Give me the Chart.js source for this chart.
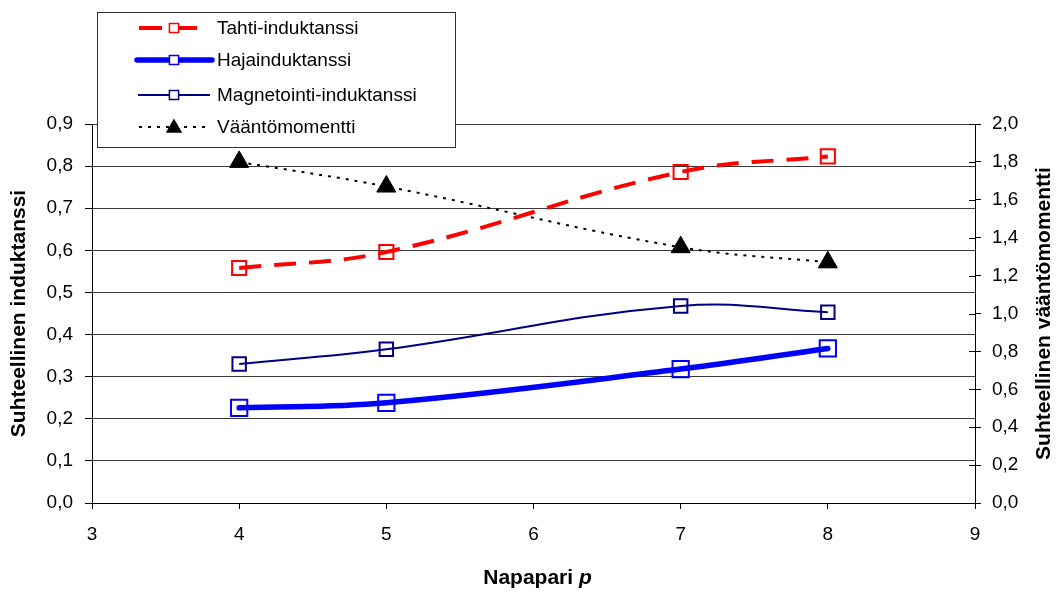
<!DOCTYPE html>
<html>
<head>
<meta charset="utf-8">
<script src="https://cdn.jsdelivr.net/npm/chart.js@4/dist/chart.umd.min.js"></script>
<style>
  html, body { margin: 0; padding: 0; background: #fff; }
  #wrap { width: 1061px; height: 592px; position: relative; }
</style>
</head>
<body>
<div id="wrap"><canvas id="chart" width="1061" height="592"></canvas></div>
<script>
// ----------------------
// Data
// ----------------------
const napapari = [4, 5, 7, 8];
const tahtiInduktanssi = [0.558, 0.596, 0.786, 0.823];
const hajaInduktanssi = [0.226, 0.238, 0.318, 0.367];
const magnetointiInduktanssi = [0.330, 0.365, 0.468, 0.453];
const vaantomomentti = [1.80, 1.67, 1.35, 1.27];

const seriesLabels = ["Tahti-induktanssi", "Hajainduktanssi", "Magnetointi-induktanssi", "Vääntömomentti"];
const leftTicks = [0, 0.1, 0.2, 0.3, 0.4, 0.5, 0.6, 0.7, 0.8, 0.9];
const rightTicks = [0, 0.2, 0.4, 0.6, 0.8, 1.0, 1.2, 1.4, 1.6, 1.8, 2.0];
const xTicks = [3, 4, 5, 6, 7, 8, 9];
const rightTitle = "Suhteellinen vääntömomentti";

const FONT = "'Liberation Sans', Arial, sans-serif";
const commaFmt = v => Number(v).toFixed(1).replace(".", ",");
const toPoints = ys => napapari.map((x, i) => ({ x, y: ys[i] }));

// ----------------------
// Custom legend, x title, right title, inner ticks
// ----------------------
const excelLegend = {
  id: "excelLegend",
  afterDraw(chart) {
    const ctx = chart.ctx;
    const area = chart.chartArea;
    ctx.save();

    // ticks crossing into the plot on the right axis
    const y2 = chart.scales.y2;
    ctx.strokeStyle = "#000";
    ctx.lineWidth = 1;
    ctx.beginPath();
    rightTicks.forEach(v => {
      const py = Math.round(y2.getPixelForValue(v)) + 0.5;
      ctx.moveTo(area.right - 6, py);
      ctx.lineTo(area.right, py);
    });
    ctx.stroke();

    // legend box
    ctx.fillStyle = "#fff";
    ctx.fillRect(97, 12, 358, 135);
    ctx.strokeStyle = "#333";
    ctx.lineWidth = 1;
    ctx.strokeRect(97.5, 12.5, 358, 135);

    const rows = [28, 60, 95, 127];
    const lineFrom = [139, 137, 138, 139];
    const lineTo = [204, 212, 210, 208];
    const markerR = [6.5, 6.5, 6.5, 8];
    chart.data.datasets.forEach((ds, i) => {
      const y = rows[i];
      ctx.save();
      ctx.strokeStyle = ds.borderColor;
      ctx.lineWidth = ds.borderWidth;
      ctx.lineCap = ds.borderCapStyle || "butt";
      ctx.setLineDash(i === 0 ? [23, 12] : (ds.borderDash || []));
      ctx.beginPath();
      ctx.moveTo(lineFrom[i], y);
      ctx.lineTo(lineTo[i], y);
      ctx.stroke();
      ctx.restore();
      ctx.save();
      ctx.strokeStyle = ds.pointBorderColor;
      ctx.fillStyle = i === 3 ? "#000" : "#fff";
      ctx.lineWidth = 1.5;
      Chart.helpers.drawPoint(ctx, { pointStyle: ds.pointStyle, radius: markerR[i], borderWidth: 1.5 }, 174, y + (i === 3 ? 1 : 0));
      ctx.restore();
      ctx.fillStyle = "#000";
      ctx.font = "19px " + FONT;
      ctx.textAlign = "left";
      ctx.textBaseline = "middle";
      ctx.fillText(ds.label, 217, y + 1);
    });

    // x axis title with italic p
    const cx = (area.left + area.right) / 2 + 4;
    const ty = 578;
    const part1 = "Napapari ";
    const part2 = "p";
    ctx.font = "bold 21px " + FONT;
    const w1 = ctx.measureText(part1).width;
    ctx.font = "italic bold 21px " + FONT;
    const w2 = ctx.measureText(part2).width;
    const x0 = cx - (w1 + w2) / 2;
    ctx.textBaseline = "middle";
    ctx.textAlign = "left";
    ctx.font = "bold 21px " + FONT;
    ctx.fillText(part1, x0, ty);
    ctx.font = "italic bold 21px " + FONT;
    ctx.fillText(part2, x0 + w1, ty);

    // right axis title, reading bottom to top
    ctx.save();
    ctx.translate(1044, (area.top + area.bottom) / 2);
    ctx.rotate(-Math.PI / 2);
    ctx.font = "bold 21px " + FONT;
    ctx.textAlign = "center";
    ctx.textBaseline = "middle";
    ctx.fillText(rightTitle, 0, 0);
    ctx.restore();

    ctx.restore();
  }
};

// ----------------------
// Chart
// ----------------------
const ctx = document.getElementById("chart").getContext("2d");
const chart = new Chart(ctx, {
  type: "line",
  data: {
    datasets: [
      {
        label: seriesLabels[0],
        data: toPoints(tahtiInduktanssi),
        yAxisID: "y",
        borderColor: "#ff0000",
        borderWidth: 4,
        borderDash: [22, 13],
        tension: 0.4,
        pointStyle: "rect",
        pointRadius: 10,
        pointBorderWidth: 2,
        pointBorderColor: "#ff0000",
        pointBackgroundColor: "transparent"
      },
      {
        label: seriesLabels[1],
        data: toPoints(hajaInduktanssi),
        yAxisID: "y",
        borderColor: "#0000ff",
        borderWidth: 5.5,
        borderCapStyle: "round",
        tension: 0.4,
        pointStyle: "rect",
        pointRadius: 11.5,
        pointBorderWidth: 2,
        pointBorderColor: "#0000ff",
        pointBackgroundColor: "transparent"
      },
      {
        label: seriesLabels[2],
        data: toPoints(magnetointiInduktanssi),
        yAxisID: "y",
        borderColor: "#000080",
        borderWidth: 2,
        tension: 0.4,
        pointStyle: "rect",
        pointRadius: 9.5,
        pointBorderWidth: 2,
        pointBorderColor: "#000080",
        pointBackgroundColor: "transparent"
      },
      {
        label: seriesLabels[3],
        data: toPoints(vaantomomentti),
        yAxisID: "y2",
        borderColor: "#000",
        borderWidth: 2,
        borderDash: [3, 6],
        tension: 0.4,
        pointStyle: "triangle",
        pointRadius: 11,
        pointBorderWidth: 1,
        pointBorderColor: "#000",
        pointBackgroundColor: "#000"
      }
    ]
  },
  options: {
    responsive: false,
    animation: false,
    events: [],
    layout: { padding: { top: 124, left: 0, right: 0, bottom: 0 } },
    plugins: {
      legend: { display: false },
      tooltip: { enabled: false }
    },
    scales: {
      x: {
        type: "linear",
        min: 3,
        max: 9,
        afterFit: s => { s.height = 89; },
        afterBuildTicks: s => { s.ticks = xTicks.map(v => ({ value: v })); },
        grid: { drawOnChartArea: false, drawTicks: true, tickLength: 6, tickColor: "#000" },
        border: { display: true, color: "#000", width: 1 },
        ticks: { color: "#000", padding: 14, font: { family: FONT, size: 19 } }
      },
      y: {
        position: "left",
        min: 0,
        max: 0.9,
        afterFit: s => { s.width = 92; },
        afterBuildTicks: s => { s.ticks = leftTicks.map(v => ({ value: v })); },
        grid: { color: "#3a3a3a", lineWidth: 1, drawTicks: true, tickLength: 7, tickColor: "#000" },
        border: { display: true, color: "#000", width: 1 },
        ticks: { color: "#000", padding: 12, callback: commaFmt, font: { family: FONT, size: 19 } },
        title: {
          display: true,
          text: "Suhteellinen induktanssi",
          color: "#000",
          padding: { top: 7, bottom: 0 },
          font: { family: FONT, size: 21, weight: "bold" }
        }
      },
      y2: {
        position: "right",
        min: 0,
        max: 2.0,
        afterFit: s => { s.width = 86; },
        afterBuildTicks: s => { s.ticks = rightTicks.map(v => ({ value: v })); },
        grid: { drawOnChartArea: false, drawTicks: true, tickLength: 6, tickColor: "#000" },
        border: { display: true, color: "#000", width: 1 },
        ticks: { color: "#000", padding: 11, callback: commaFmt, font: { family: FONT, size: 19 } },
        title: { display: false }
      }
    }
  },
  plugins: [excelLegend]
});
</script>
</body>
</html>
